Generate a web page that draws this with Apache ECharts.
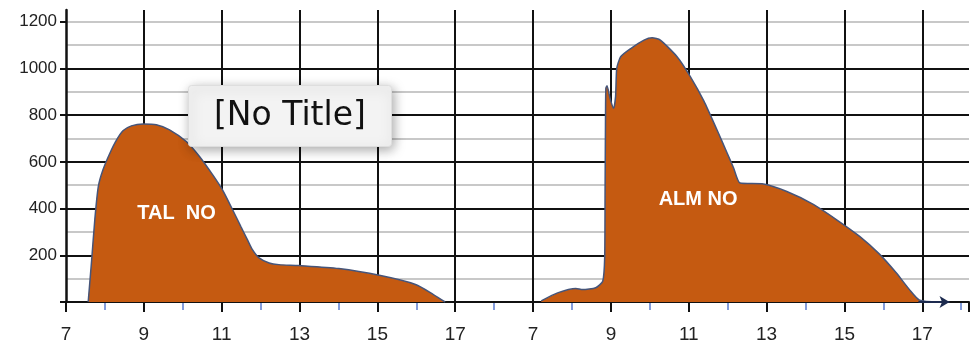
<!DOCTYPE html>
<html><head><meta charset="utf-8">
<script src="https://cdn.jsdelivr.net/npm/echarts@6/dist/echarts.min.js"></script>
<style>html,body{margin:0;padding:0;background:#fff}#c{width:972px;height:344px}</style>
</head><body><div id="c"></div>
<script>
// Tick labels (clock hours shown under each panel) and y tick values
const panelHours = [7, 9, 11, 13, 15, 17];
const panelGap = 12; // second panel starts 12 units after the first on the shared axis
const yTicks = [0, 200, 400, 600, 800, 1000, 1200];

// TAL NO (left panel)
const talHours = [7.57,7.66,7.74,7.83,7.95,8.13,8.30,8.47,8.68,8.98,9.32,9.66,10.09,10.43,10.77,11.02,11.28,11.49,11.66,11.79,11.96,12.22,12.47,12.98,14.01,15.08,15.98,16.44,16.74];
const talValues = [0,181,352,494,566,638,694,734,754,762,759,737,687,623,544,480,395,324,267,224,189,167,160,156,143,113,75,32,0];

// ALM NO (right panel)
const almHours = [7.21,7.63,8.10,8.27,8.61,8.79,8.84,8.85,8.86,8.87,8.90,8.98,9.07,9.12,9.15,9.25,9.51,9.85,10.06,10.27,10.70,11.04,11.39,11.73,11.98,12.15,12.32,12.92,13.52,14.20,14.80,15.39,15.90,16.33,16.67,16.93,17.43];
const almValues = [5,39,58,53,61,89,189,473,758,915,926,870,829,880,1000,1050,1085,1121,1131,1121,1050,965,860,735,640,575,509,505,473,418,352,281,205,125,53,8,0];

const chart = echarts.init(document.getElementById('c'), null, {renderer: 'canvas'});

function xLabel(v) {
  if (panelHours.indexOf(v) >= 0) return String(v);
  if (panelHours.indexOf(v - panelGap) >= 0) return String(v - panelGap);
  return '';
}

const fill = '#c55a11';
const edge = '#46557a';
const xMin = 7, xMax = 30.2;

const option = {
  animation: false,
  title: {
    text: '[No Title]', left: 188, top: 85, padding: [14, 26],
    backgroundColor: '#f3f3f3', borderColor: '#dedede', borderWidth: 1, borderRadius: 3,
    shadowBlur: 12, shadowColor: 'rgba(0,0,0,0.35)', shadowOffsetX: 2, shadowOffsetY: 3,
    textStyle: {fontFamily: 'DejaVu Sans', fontSize: 33, fontWeight: 'normal', color: '#111', lineHeight: 34}
  },
  grid: {left: 66, right: 0, top: 10, bottom: 42},
  xAxis: [
    {
      type: 'value', min: xMin, max: xMax, interval: 2, position: 'bottom', z: 2,
      axisLine: {show: true, onZero: false, lineStyle: {color: '#111', width: 2}},
      axisTick: {show: true, length: 10, lineStyle: {color: '#111', width: 2}},
      axisLabel: {margin: 23, fontFamily: 'Liberation Sans', fontSize: 19, color: '#222', formatter: xLabel},
      splitLine: {show: true, showMinLine: false, showMaxLine: false, lineStyle: {color: '#111', width: 2}}
    },
    {
      type: 'value', min: xMin, max: xMax, interval: 1, position: 'bottom', offset: 0, z: 1,
      axisLine: {show: false, onZero: false},
      axisTick: {show: true, length: 8, lineStyle: {color: '#5b7ccf', width: 1.5}},
      axisLabel: {show: false},
      splitLine: {show: false}
    }
  ],
  yAxis: [
    {
      type: 'value', min: 0, max: 1250, interval: 200, z: 1,
      axisLine: {show: true, onZero: false, lineStyle: {color: '#111', width: 2.5}},
      axisTick: {show: true, length: 6, customValues: yTicks, lineStyle: {color: '#111', width: 2}},
      axisLabel: {customValues: yTicks.filter(v => v > 0), margin: 9, fontFamily: 'Liberation Sans', fontSize: 17, color: '#222', formatter: v => String(v)},
      splitLine: {show: true, showMinLine: false, showMaxLine: false, lineStyle: {color: '#111', width: 2}}
    },
    {
      type: 'value', min: 0, max: 1250, interval: 100, z: 0, position: 'left',
      axisLine: {show: false}, axisTick: {show: false}, axisLabel: {show: false},
      splitLine: {show: true, showMinLine: false, showMaxLine: false, lineStyle: {color: '#c8c8c8', width: 2}}
    }
  ],
  series: [
    {
      type: 'line', name: 'TAL NO', xAxisIndex: 0, yAxisIndex: 0,
      data: talHours.map((h, i) => [h, talValues[i]]),
      symbol: 'none', smooth: 0.25, z: 3,
      lineStyle: {color: edge, width: 1.5},
      areaStyle: {color: fill, opacity: 1}
    },
    {
      type: 'line', name: 'ALM NO', xAxisIndex: 0, yAxisIndex: 0,
      data: almHours.map((h, i) => [h + panelGap, almValues[i]]),
      symbol: 'none', smooth: 0.2, z: 3,
      lineStyle: {color: edge, width: 1.5},
      areaStyle: {color: fill, opacity: 1},
      markLine: {
        silent: true, symbol: ['none', 'arrow'], symbolSize: [9, 10],
        label: {show: false},
        lineStyle: {color: '#1d2b4f', width: 2, type: 'solid'},
        data: [[{coord: [28.9, 0]}, {coord: [29.7, 0]}]]
      }
    }
  ]
};
chart.setOption(option);

const p1 = chart.convertToPixel({xAxisIndex: 0, yAxisIndex: 0}, [9.84, 378]);
const p2 = chart.convertToPixel({xAxisIndex: 0, yAxisIndex: 0}, [23.24, 438]);
const lblStyle = {fill: '#fff', fontSize: 20, fontWeight: 'bold', fontFamily: 'Liberation Sans',
  textAlign: 'center', textVerticalAlign: 'middle', align: 'center', verticalAlign: 'middle'};
chart.setOption({
  graphic: [
    {type: 'text', x: p1[0], y: p1[1], z: 10, style: Object.assign({text: 'TAL  NO'}, lblStyle)},
    {type: 'text', x: p2[0], y: p2[1], z: 10, style: Object.assign({text: 'ALM NO'}, lblStyle)}
  ]
});
</script>
</body></html>
